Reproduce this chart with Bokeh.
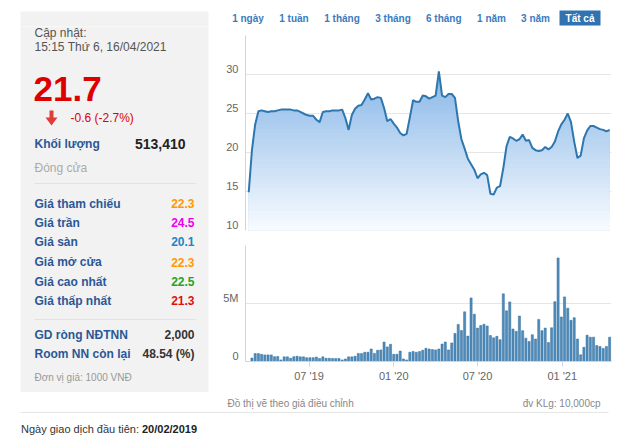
import numpy as np
import pandas as pd
from bokeh.plotting import figure
from bokeh.layouts import row, column
from bokeh.models import Range1d, FixedTicker, DatetimeTickFormatter, LinearAxis, Grid
from bokeh.core.properties import value
from bokeh.embed import file_html
from bokeh.resources import INLINE

FONT = "Liberation Sans"

# ---------------- texts ----------------
update_label = "Cập nhật:"
update_time = "15:15 Thứ 6, 16/04/2021"
last_price = "21.7"
change_text = "-0.6 (-2.7%)"
volume_label = "Khối lượng"
volume_value = "513,410"
status_text = "Đóng cửa"
price_labels = ["Giá tham chiếu", "Giá trần", "Giá sàn", "Giá mở cửa", "Giá cao nhất", "Giá thấp nhất"]
price_values = ["22.3", "24.5", "20.1", "22.3", "22.5", "21.3"]
price_value_colors = ["#ff9900", "#ee00ee", "#1b86c2", "#ff9900", "#1ea51e", "#e01010"]
foreign_labels = ["GD ròng NĐTNN", "Room NN còn lại"]
foreign_values = ["2,000", "48.54 (%)"]
unit_note = "Đơn vị giá: 1000 VNĐ"
range_buttons = ["1 ngày", "1 tuần", "1 tháng", "3 tháng", "6 tháng", "1 năm", "3 năm", "Tất cả"]
chart_note = "Đồ thị vẽ theo giá điều chỉnh"
volume_unit = "đv KLg: 10,000cp"
first_trade_label = "Ngày giao dịch đầu tiên:"
first_trade_date = "20/02/2019"

# ---------------- axes ----------------
price_grid_ticks = [10, 15, 20, 25, 30, 35]
price_label_ticks = [10, 15, 20, 25, 30]
volume_grid_ticks = [0, 5, 10]
volume_label_ticks = [0, 5]
volume_tick_labels = {0: "0", 5: "5M"}
x_tick_dates = ["2019-07-01", "2020-01-01", "2020-07-01", "2021-01-01"]
x_tick_format = "%m '%y"   # -> 07 '19, 01 '20, 07 '20, 01 '21
x_start, x_end = "2019-02-13", "2021-04-18"

# ---------------- data (weekly) ----------------
first_week = "2019-02-20"
weekly_close = [
    14.9, 20.3, 23.6, 25.3, 25.4, 25.3, 25.2, 25.3, 25.3, 25.4,
    25.5, 25.5, 25.5, 25.5, 25.4, 25.4, 25.2, 25.0, 24.8, 24.7,
    24.7, 24.2, 23.9, 25.2, 25.3, 25.3, 25.4, 25.4, 25.4, 25.5,
    24.4, 22.9, 24.8, 25.6, 26.0, 26.1, 26.8, 27.6, 26.8, 26.9,
    27.1, 27.0, 25.7, 24.0, 24.3, 23.7, 23.2, 22.5, 22.2, 22.4,
    24.5, 26.7, 26.5, 26.5, 27.3, 27.2, 26.9, 27.1, 27.3, 30.4,
    27.3, 27.1, 27.5, 27.5, 27.0, 24.0, 21.7, 20.5, 19.2, 18.5,
    17.8, 16.7, 17.2, 17.4, 17.1, 14.7, 14.6, 15.5, 15.7, 18.0,
    20.8, 22.0, 21.8, 21.5, 21.7, 22.3, 21.5, 21.6, 20.6, 20.3,
    20.2, 20.3, 20.7, 20.4, 20.7, 21.4, 22.7, 23.6, 24.2, 25.0,
    23.9, 21.4, 19.3, 19.6, 21.8, 22.8, 23.4, 23.4, 23.2, 23.0,
    22.9, 22.7, 22.9,
]
# weekly volume in millions of shares (bars start one week after first price)
weekly_volume = [
    0.30, 0.68, 0.68, 0.62, 0.57, 0.57, 0.57, 0.42, 0.44, 0.14,
    0.40, 0.40, 0.28, 0.42, 0.45, 0.40, 0.40, 0.33, 0.33, 0.33,
    0.38, 0.26, 0.40, 0.28, 0.28, 0.26, 0.26, 0.26, 0.14, 0.22,
    0.40, 0.40, 0.45, 0.70, 0.68, 0.80, 0.80, 1.08, 0.70, 0.97,
    1.00, 1.68, 1.26, 1.48, 0.62, 0.62, 0.90, 0.22, 0.14, 0.80,
    0.86, 0.80, 0.86, 0.97, 1.14, 1.08, 1.03, 1.00, 1.08, 1.50,
    1.68, 1.00, 1.60, 2.42, 3.20, 2.68, 4.28, 2.19, 5.48, 4.08,
    2.88, 3.10, 3.21, 3.06, 2.24, 2.04, 2.17, 1.88, 5.83, 4.37,
    5.14, 2.80, 2.60, 3.92, 2.66, 2.01, 1.72, 2.31, 1.94, 3.63,
    2.66, 2.88, 1.63, 2.91, 5.16, 8.93, 3.84, 5.57, 4.60, 3.55,
    3.78, 1.94, 0.58, 1.22, 2.27, 2.10, 2.10, 1.37, 1.30, 1.13,
    1.30, 2.10,
]

dates = pd.date_range(first_week, periods=len(weekly_close), freq="7D")
vol_dates = dates[1:1 + len(weekly_volume)]
close = np.array(weekly_close)

x_range = Range1d(pd.Timestamp(x_start), pd.Timestamp(x_end))

AXIS_BLUE = "#ccd6eb"
GRID = "#e6e6e6"
TICK_TXT = "#666666"
LABEL_BLUE = "#2b5797"
PANEL = "#f2f2f2"
LABEL_LIFT_PX = 6   # tick labels sit just above their grid lines
PAGE_W = 628
TOP_H = 26
SPLIT_X = 220


def txt(p, x, y, s, size, color, style="normal", align="left", baseline="middle"):
    p.text(x=[x], y=[y], text=[s], text_font=value(FONT), text_font_size=f"{size}px",
           text_color=color, text_font_style=style, text_align=align, text_baseline=baseline)


def blank(width, height, xr, yr):
    f = figure(width=width, height=height, x_range=Range1d(*xr), y_range=Range1d(*yr),
               toolbar_location=None, output_backend="svg", min_border=0,
               x_axis_location=None, y_axis_location=None)
    f.grid.visible = False
    f.outline_line_color = None
    return f


def left_axis(p, lo, hi, frame_h, ticks, overrides=None):
    d = (hi - lo) * LABEL_LIFT_PX / frame_h
    p.extra_y_ranges = {"lab": Range1d(lo - d, hi - d)}
    ax = LinearAxis(y_range_name="lab", ticker=FixedTicker(ticks=ticks))
    ax.axis_line_color = AXIS_BLUE
    ax.major_tick_line_color = None
    ax.major_tick_out = 0
    ax.major_tick_in = 0
    ax.minor_tick_line_color = None
    ax.minor_tick_out = 0
    ax.minor_tick_in = 0
    ax.major_label_standoff = 7
    ax.major_label_text_font_size = "11px"
    ax.major_label_text_color = TICK_TXT
    ax.major_label_text_font = FONT
    if overrides:
        ax.major_label_overrides = overrides
    p.add_layout(ax, "left")


# ---------------- top strip: range buttons (+ top of the info panel) ----------------
T = blank(PAGE_W, TOP_H, (0, PAGE_W), (TOP_H, 0))
T.quad(left=20, right=208, top=11, bottom=TOP_H + 6, fill_color=PANEL, line_color=None)
btn_x = [247.5, 293.5, 341.5, 392.5, 443.3, 491, 535, 579.5]
T.quad(left=559, right=600, top=10, bottom=25, fill_color="#3173b0", line_color=None)
for i, (lab, x) in enumerate(zip(range_buttons, btn_x)):
    active = i == len(range_buttons) - 1
    txt(T, x, 17.5, lab, 10, "#ffffff" if active else "#3a7bbf", "bold", "center")

# ---------------- left info panel ----------------
L = blank(SPLIT_X, 392 - TOP_H, (0, SPLIT_X), (392, TOP_H))
L.quad(left=20, right=208, top=TOP_H - 6, bottom=392, fill_color=PANEL, line_color=None)
txt(L, 34, 32, update_label, 12, "#555555")
txt(L, 34, 46, update_time, 12, "#555555")
txt(L, 33, 88, last_price, 35, "#dd0000", "bold")
L.patch(x=[49, 53, 53, 57, 51, 45, 49], y=[110, 110, 117, 117, 125, 117, 117],
        fill_color="#e03c3c", line_color=None)
txt(L, 70, 117, change_text, 12, "#dd0000")
txt(L, 34, 143, volume_label, 12, LABEL_BLUE, "bold")
txt(L, 185, 143, volume_value, 14, "#222222", "bold", "right")
txt(L, 34, 167, status_text, 12, "#aaaaaa")
L.segment(x0=[34, 34], y0=[183, 319], x1=[195, 195], y1=[183, 319], line_color="#e2e2e2", line_width=1)
row_y = [203, 222, 241, 261.5, 281, 300]
for lab, val, col, y in zip(price_labels, price_values, price_value_colors, row_y):
    txt(L, 34, y, lab, 12, LABEL_BLUE, "bold")
    txt(L, 194, y, val, 12, col, "bold", "right")
for lab, val, y in zip(foreign_labels, foreign_values, [334, 353.5]):
    txt(L, 34, y, lab, 12, LABEL_BLUE, "bold")
    txt(L, 194, y, val, 12, "#333333", "bold", "right")
txt(L, 34, 377, unit_note, 10, "#999999")

# ---------------- price chart ----------------
RW = PAGE_W - SPLIT_X
P = figure(width=RW, height=238 - TOP_H, x_range=x_range, y_range=Range1d(10, 35),
           x_axis_type="datetime", x_axis_location=None, y_axis_location=None,
           toolbar_location=None, output_backend="svg",
           min_border_left=25, min_border_right=PAGE_W - 611,
           min_border_top=35 - TOP_H, min_border_bottom=8)
P.outline_line_color = None
P.grid.visible = False
P.add_layout(Grid(dimension=1, ticker=FixedTicker(ticks=price_grid_ticks), grid_line_color=GRID))
left_axis(P, 10, 35, 195, price_label_ticks)

top_rgb = np.array([128, 178, 230])
bot_rgb = np.array([250, 252, 255])
edges = np.arange(35.0, 10.0, -0.5)
for hi in edges:
    t = min((hi - 10.0) / 22.0, 1.0)
    c = bot_rgb + (top_rgb - bot_rgb) * t
    col = "#%02x%02x%02x" % tuple(int(round(v)) for v in c)
    P.varea(x=dates, y1=10, y2=np.minimum(close, hi), fill_color=col)
P.line(x=dates, y=close, line_color="#2e77ae", line_width=2)

# ---------------- volume chart ----------------
V = figure(width=RW, height=154, x_range=x_range, y_range=Range1d(0, 10),
           x_axis_type="datetime", y_axis_location=None,
           toolbar_location=None, output_backend="svg",
           min_border_left=25, min_border_right=PAGE_W - 611, min_border_top=7, min_border_bottom=31)
V.outline_line_color = None
V.grid.visible = False
V.add_layout(Grid(dimension=1, ticker=FixedTicker(ticks=volume_grid_ticks), grid_line_color=GRID))
left_axis(V, 0, 10, 116, volume_label_ticks, volume_tick_labels)
V.xaxis.ticker = FixedTicker(ticks=[pd.Timestamp(d).value / 1e6 for d in x_tick_dates])
V.xaxis.formatter = DatetimeTickFormatter(days=x_tick_format, months=x_tick_format, years=x_tick_format)
V.xaxis.axis_line_color = AXIS_BLUE
V.xaxis.major_tick_line_color = AXIS_BLUE
V.xaxis.major_tick_out = 5
V.xaxis.major_tick_in = 0
V.xaxis.minor_tick_line_color = None
V.xaxis.major_label_standoff = 3
V.xaxis.major_label_text_font_size = "11px"
V.xaxis.major_label_text_color = TICK_TXT
V.xaxis.major_label_text_font = FONT
V.vbar(x=vol_dates, top=weekly_volume, width=4.6 * 86400000,
       fill_color="#4f8cbc", line_color="#2f6d9c", line_width=0.5)

# ---------------- bottom notes ----------------
N = blank(PAGE_W, 48, (0, PAGE_W), (440, 392))
txt(N, 227, 403, chart_note, 10, "#888888")
txt(N, 600, 403, volume_unit, 10, "#888888", "normal", "right")
N.segment(x0=[20], y0=[412], x1=[608], y1=[412], line_color="#e6e6e6", line_width=1)
txt(N, 20.5, 428.5, first_trade_label, 11, "#333333")
txt(N, 141.5, 428.5, first_trade_date, 11, "#222222", "bold")

layout = column(T, row(L, column(P, V)), N)
open("out.html", "w").write(file_html(layout, INLINE))
